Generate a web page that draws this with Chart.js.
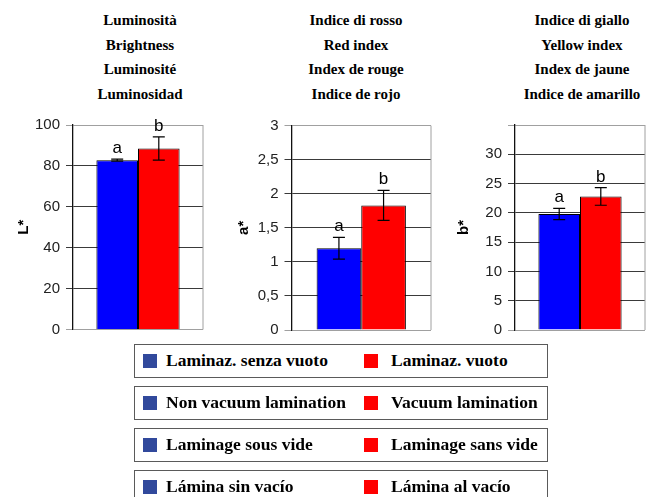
<!DOCTYPE html>
<html>
<head>
<meta charset="utf-8">
<script src="https://cdn.jsdelivr.net/npm/chart.js@4.4.1/dist/chart.umd.min.js"></script>
<style>
body { margin: 0; width: 653px; height: 497px; overflow: hidden; background: #fff; position: relative; }
canvas { position: absolute; }
.titolo { position: absolute; top: 8px; width: 200px; text-align: center; font: bold 15px "Liberation Serif", serif; line-height: 24.5px; color: #000; }
.riga { position: absolute; left: 134px; width: 414px; height: 34px; box-sizing: border-box; border: 1.5px solid #5a5a5a; background: #fff; }
.quad { position: absolute; top: 9px; width: 14px; height: 14px; }
.voce { position: absolute; top: 5px; font: bold 17.5px "Liberation Serif", serif; color: #000; white-space: nowrap; }
</style>
</head>
<body>
<div class="titolo" style="left:40px">Luminosità<br>Brightness<br>Luminosité<br>Luminosidad</div>
<div class="titolo" style="left:256px">Indice di rosso<br>Red index<br>Index de rouge<br>Indice de rojo</div>
<div class="titolo" style="left:482px">Indice di giallo<br>Yellow index<br>Index de jaune<br>Indice de amarillo</div>

<canvas id="graficoL" width="215" height="245" style="left:0px;top:100px"></canvas>
<canvas id="graficoA" width="225" height="245" style="left:220px;top:100px"></canvas>
<canvas id="graficoB" width="213" height="245" style="left:440px;top:100px"></canvas>

<div id="legenda"></div>

<script>
// valori
var trattamenti = ['Laminaz. senza vuoto', 'Laminaz. vuoto'];
var lettere = ['a', 'b'];

var valoriL = [82.8, 88.5];
var erroriL = [0.5, 5.7];
var valoriA = [1.20, 1.83];
var erroriA = [0.16, 0.22];
var valoriB = [19.8, 22.8];
var erroriB = [0.95, 1.5];

var tickL = ['0', '20', '40', '60', '80', '100'];
var tickA = ['0', '0,5', '1', '1,5', '2', '2,5', '3'];
var tickB = ['0', '5', '10', '15', '20', '25', '30', ''];

var legendaBlu = ['Laminaz. senza vuoto', 'Non vacuum lamination', 'Laminage sous vide', 'Lámina sin vacío'];
var legendaRosso = ['Laminaz. vuoto', 'Vacuum lamination', 'Laminage sans vide', 'Lámina al vacío'];

var colori = ['#0000ff', '#ff0000'];
var coloriLegenda = ['#31499c', '#ff0000'];

// barre di errore e lettere
var barreErrore = {
    id: 'barreErrore',
    afterDatasetsDraw(chart) {
        var ctx = chart.ctx;
        var y = chart.scales.y;
        chart.data.datasets.forEach(function (ds, i) {
            var bar = chart.getDatasetMeta(i).data[0];
            var v = ds.data[0];
            var e = ds.errore;
            var yt = y.getPixelForValue(v + e);
            var yb = y.getPixelForValue(v - e);
            ctx.save();
            ctx.strokeStyle = '#000';
            ctx.lineWidth = 1.2;
            ctx.beginPath();
            ctx.moveTo(bar.x, yt); ctx.lineTo(bar.x, yb);
            ctx.moveTo(bar.x - 6, yt); ctx.lineTo(bar.x + 6, yt);
            ctx.moveTo(bar.x - 6, yb); ctx.lineTo(bar.x + 6, yb);
            ctx.stroke();
            ctx.fillStyle = '#000';
            ctx.font = '17px "Liberation Sans", Arial, sans-serif';
            ctx.textAlign = 'center';
            ctx.textBaseline = 'alphabetic';
            ctx.fillText(ds.lettera, bar.x, yt - 6);
            ctx.restore();
        });
    }
};

// bordo grigio a destra dell'area
var bordo = {
    id: 'bordo',
    beforeDatasetsDraw(chart) {
        var a = chart.chartArea;
        var ctx = chart.ctx;
        ctx.save();
        ctx.strokeStyle = '#a0a0a0';
        ctx.lineWidth = 1;
        ctx.beginPath();
        ctx.moveTo(a.right, a.top);
        ctx.lineTo(a.right, a.bottom);
        ctx.stroke();
        ctx.restore();
    }
};

function creaGrafico(id, titoloY, valori, errori, max, passo, etichette, larghezzaAsse, padding) {
    return new Chart(document.getElementById(id).getContext('2d'), {
        type: 'bar',
        data: {
            labels: [''],
            datasets: [0, 1].map(function (i) {
                return {
                    label: trattamenti[i],
                    data: [valori[i]],
                    errore: errori[i],
                    lettera: lettere[i],
                    backgroundColor: colori[i],
                    borderColor: '#000',
                    borderWidth: 1,
                    categoryPercentage: 0.64,
                    barPercentage: 1
                };
            })
        },
        options: {
            responsive: false,
            animation: false,
            layout: { padding: padding },
            plugins: {
                legend: { display: false },
                tooltip: { enabled: false }
            },
            scales: {
                x: { display: false },
                y: {
                    min: 0,
                    max: max,
                    afterFit: function (s) { s.width = larghezzaAsse; },
                    ticks: {
                        stepSize: passo,
                        padding: 6,
                        color: '#222',
                        font: { family: '"Liberation Sans", Arial, sans-serif', size: 15 },
                        callback: function (v, i) { return etichette[i]; }
                    },
                    grid: {
                        tickLength: 7,
                        lineWidth: 1,
                        color: function (c) {
                            return (c.tick.value === 0 || c.tick.value === max) ? '#a0a0a0' : '#3a3a3a';
                        }
                    },
                    border: { color: '#111', width: 1.3 },
                    title: {
                        display: true,
                        text: titoloY,
                        color: '#000',
                        font: { family: '"Liberation Sans", Arial, sans-serif', size: 15, weight: 'bold' },
                        padding: { top: 15, bottom: 0 }
                    }
                }
            }
        },
        plugins: [bordo, barreErrore]
    });
}

creaGrafico('graficoL', 'L*', valoriL, erroriL, 100, 20, tickL, 73, { top: 25, right: 12, bottom: 15.5, left: 0 });
creaGrafico('graficoA', 'a*', valoriA, erroriA, 3, 0.5, tickA, 71.5, { top: 25.7, right: 14, bottom: 14, left: 0 });
creaGrafico('graficoB', 'b*', valoriB, erroriB, 35, 5, tickB, 75, { top: 25, right: 8, bottom: 15, left: 0 });

// legenda a righe
var legenda = document.getElementById('legenda');
var alti = [344, 386, 428, 470];
legendaBlu.forEach(function (testo, i) {
    var riga = document.createElement('div');
    riga.className = 'riga';
    riga.style.top = alti[i] + 'px';
    riga.innerHTML =
        '<div class="quad" style="left:8px;background:' + coloriLegenda[0] + '"></div>' +
        '<div class="voce" style="left:31px">' + testo + '</div>' +
        '<div class="quad" style="left:229px;background:' + coloriLegenda[1] + '"></div>' +
        '<div class="voce" style="left:256px">' + legendaRosso[i] + '</div>';
    legenda.appendChild(riga);
});
</script>
</body>
</html>
